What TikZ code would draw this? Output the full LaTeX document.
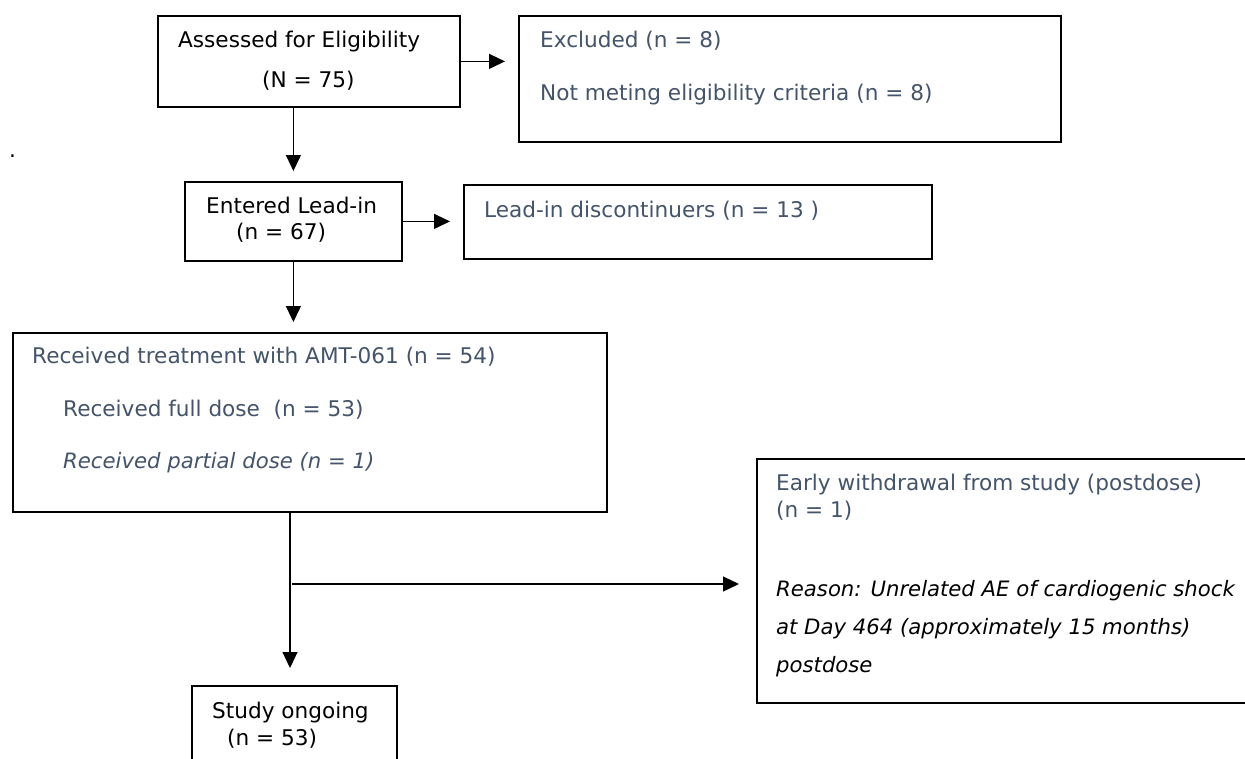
\documentclass[tikz,border=0pt]{standalone}
\usepackage{fontspec}
\setmainfont{DejaVu Sans}
\usetikzlibrary{arrows.meta}
\definecolor{tg}{HTML}{44546A}
\begin{document}
\begin{tikzpicture}[x=1pt,y=-1pt,
  box/.style={draw=black,line width=1.8pt,anchor=north west,inner sep=0pt,fill=none},
  txt/.style={anchor=base west,inner sep=0pt,font=\fontsize{21.6}{26}\selectfont},
  itxt/.style={txt,font=\fontsize{21.2}{26}\selectfont\itshape},
  gtxt/.style={txt,text=tg},
  arr/.style={line width=1.2pt,-{Triangle[length=16pt,width=15pt]}}]
\useasboundingbox[fill=white] (0,0) rectangle (1245,758);

% boxes
\node[box,minimum width=302pt,minimum height=91pt] (A) at (157,15) {};
\node[box,minimum width=542pt,minimum height=126pt] (excl) at (518,15) {};
\node[box,minimum width=217pt,minimum height=79pt] (lead) at (184,181) {};
\node[box,minimum width=468pt,minimum height=74pt] (disc) at (463,184) {};
\node[box,minimum width=594pt,minimum height=179pt] (rec) at (12,332) {};
\node[box,minimum width=500pt,minimum height=244pt] (early) at (756,458) {};
\node[box,minimum width=205pt,minimum height=90pt] (study) at (191,685) {};

% texts
\node[txt] (tA1) at (178,47) {Assessed for Eligibility};
\node[txt] (tA2) at (262,87) {(N = 75)};
\node[gtxt] (tE1) at (540,47) {Excluded (n = 8)};
\node[gtxt] (tE2) at (540,100) {Not meting eligibility criteria (n = 8)};
\node[txt] (tL1) at (206,213) {Entered Lead-in};
\node[txt] (tL2) at (236,239) {(n = 67)};
\node[gtxt] (tD) at (484,217) {Lead-in discontinuers (n = 13 )};
\node[gtxt] (tR1) at (32,363) {Received treatment with AMT-061 (n = 54)};
\node[gtxt] (tR2) at (63,416) {Received full dose\ \ (n = 53)};
\node[itxt,text=tg] (tR3) at (63,468) {Received partial dose (n = 1)};
\node[gtxt] (tW1) at (776,490) {Early withdrawal from study (postdose)};
\node[gtxt] (tW2) at (776,517) {(n = 1)};
\node[itxt] (tW3) at (776,596) {Reason: Unrelated AE of cardiogenic shock};
\node[itxt] (tW4) at (776,634) {at Day 464 (approximately 15 months)};
\node[itxt] (tW5) at (776,672) {postdose};
\node[txt] (tS1) at (212,718) {Study ongoing};
\node[txt] (tS2) at (227,745) {(n = 53)};
\node[txt] (dot) at (9,157) {.};

% connectors
\draw[arr,shorten >=13pt] (A.east) -- (excl.west |- A.east);
\draw[arr,shorten >=10pt] (A.south -| lead.north) -- (lead.north);
\draw[arr,shorten >=13pt] (lead.east) -- (disc.west |- lead.east);
\draw[arr,shorten >=10pt] (lead.south) -- (lead.south |- rec.north);
\draw[arr,shorten >=17pt] (rec.south -| 290,0) -- (study.north -| 290,0);
\coordinate (br) at (292,584);
\draw[arr,shorten >=17pt] (br) -- (br -| early.west);
\end{tikzpicture}
\end{document}
